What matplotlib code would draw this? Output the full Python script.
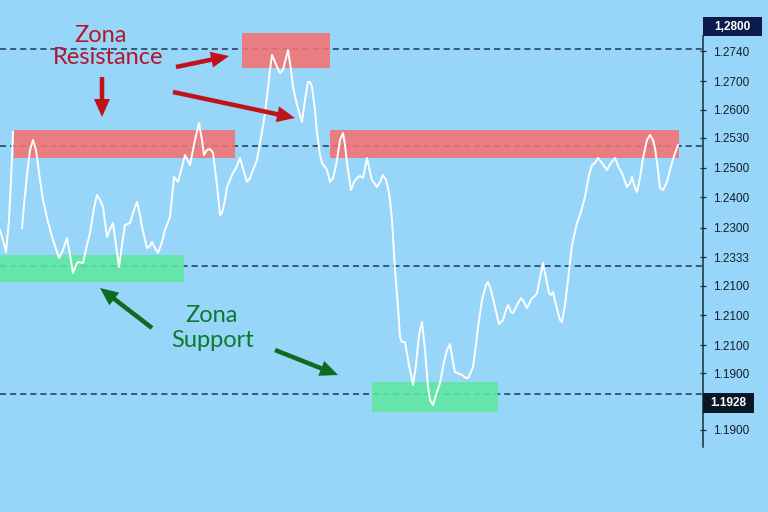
import matplotlib
matplotlib.use('Agg')
import matplotlib.pyplot as plt
from matplotlib.patches import Rectangle
import numpy as np

# chart units: x = bar position, y = price level in chart rows (axis inverted)
price_x = [0, 3, 6, 9, 11, 13, np.nan,
           22, 24, 27, 30, 33, 36, 40, 43, 48, 53, 59, 63, 67, 70, 73, 76, 78, 83, 87, 90,
           94, 97, 100, 103, 107, 110, 113, 116, 119, 122, 125, 130, 134, 137, 140, 142,
           147, 150, 152, 155, 158, 162, 165, 170, 174, 178, 182, 185, 190, 195, 199, 202,
           204, 207, 210, 213, 217, 220, 222, 225, 227, 233, 236, 240, 244, 247, 250, 253,
           257, 260, 264, 267, 270, 272, 275, 277, 280, 283, 286, 288, 291, 293, 297, 302,
           305, 308, 310, 312, 315, 317, 320, 322, 327, 330, 333, 335, 337, 340, 343, 345,
           347, 351, 354, 357, 360, 363, 365, 367, 370, 372, 377, 380, 383, 386, 388, 390,
           392, 395, 398, 400, 402, 405, 409, 413, 416, 419, 422, 425, 428, 430, 433, 436,
           440, 444, 447, 450, 453, 455, 462, 466, 468, 471, 473, 476, 478, 482, 486, 488,
           491, 495, 499, 503, 506, 508, 511, 513, 517, 521, 524, 527, 530, 532, 535, 537,
           540, 543, 546, 549, 551, 553, 556, 560, 562, 565, 568, 572, 577, 580, 585, 589,
           592, 595, 598, 602, 607, 611, 615, 619, 622, 627, 630, 632, 635, 637, 640, 643,
           647, 650, 653, 655, 658, 660, 663, 667, 670, 674, 678]
price_y = [230, 240, 252, 220, 180, 132, np.nan,
           228, 205, 175, 150, 140, 150, 180, 200, 222, 240, 258, 250, 238, 255, 273, 265, 262, 263, 245, 233,
           208, 195, 200, 207, 237, 229, 223, 245, 267, 245, 225, 223, 210, 202, 215, 227,
           248, 246, 242, 248, 253, 242, 230, 217, 177, 182, 167, 155, 165, 140, 123, 140,
           155, 150, 149, 153, 185, 215, 213, 200, 187, 173, 168, 158, 172, 182, 178, 170,
           160, 143, 120, 97, 70, 55, 62, 67, 73, 70, 58, 50, 70, 87, 105, 122,
           100, 82, 82, 87, 110, 133, 155, 163, 170, 182, 178, 170, 160, 140, 133, 145,
           163, 190, 182, 178, 176, 178, 168, 158, 172, 180, 187, 182, 175, 180, 188, 200,
           220, 270, 307, 337, 342, 342, 365, 385, 365, 335, 322, 350, 387, 400, 405, 395,
           383, 362, 350, 344, 362, 372, 375, 378, 378, 372, 367, 345, 327, 300, 285, 282,
           290, 307, 324, 320, 310, 305, 312, 313, 305, 298, 302, 308, 302, 298, 296, 293,
           278, 263, 278, 293, 295, 292, 305, 320, 322, 305, 280, 245, 223, 215, 197, 175,
           165, 163, 158, 163, 170, 163, 158, 168, 173, 187, 183, 177, 188, 192, 178, 158,
           140, 135, 140, 148, 170, 188, 190, 182, 170, 156, 145]

level_rows = [49, 146, 266, 394]
tick_rows = [51, 81, 110, 138, 168, 197, 228, 257, 286, 315, 345, 373, 430]
tick_labels = ['1.2740', '1.2700', '1.2600', '1.2530', '1.2500', '1.2400', '1.2300',
               '1.2333', '1.2100', '1.2100', '1.2100', '1.1900', '1.1900']
top_label = '1,2800'
support_label = '1.1928'

# zones: (x_start, x_end, row_top, row_bottom)
resistance_zones = [(14, 235, 130, 158), (242, 330, 33, 68), (330, 679, 130, 158)]
support_zones = [(0, 184, 255, 282), (372, 498, 382, 412)]

bg = '#97d5f9'
dark = '#173a52'
red = '#b3172a'
green = '#0b7a30'

fig = plt.figure(figsize=(7.68, 5.12), dpi=100, facecolor=bg)
ax = fig.add_axes([0, 0, 1, 1], facecolor=bg)
ax.set_xlim(0, 768)
ax.set_ylim(512, 0)

for r in level_rows:
    ax.plot([0, 703], [r, r], color=dark, lw=1.1, ls=(0, (4, 2.6)), zorder=1)

for x0, x1, r0, r1 in resistance_zones:
    ax.add_patch(Rectangle((x0, r0), x1 - x0, r1 - r0, facecolor='#f47272',
                           alpha=0.88, lw=0, zorder=2))
for x0, x1, r0, r1 in support_zones:
    ax.add_patch(Rectangle((x0, r0), x1 - x0, r1 - r0, facecolor='#5fe89e',
                           alpha=0.88, lw=0, zorder=2))

ax.plot(price_x, price_y, color='white', lw=1.4, solid_joinstyle='round', zorder=3)

# right price axis
for s in ['left', 'top', 'bottom']:
    ax.spines[s].set_visible(False)
ax.spines['right'].set_position(('data', 703))
ax.spines['right'].set_bounds(36, 447)
ax.spines['right'].set_color('#1c2c3a')
ax.spines['right'].set_linewidth(1.1)
ax.xaxis.set_visible(False)
ax.yaxis.tick_right()
ax.set_yticks(tick_rows)
ax.set_yticklabels(tick_labels)
ax.tick_params(axis='y', direction='inout', length=5, width=0.9, color='#1c2c3a',
               pad=5, labelsize=8.5, labelcolor='#14202c')
for lab in ax.get_yticklabels():
    lab.set_fontfamily('Liberation Sans')

ax.add_patch(Rectangle((703, 17), 59, 19, facecolor='#0c1a4c', lw=0, zorder=4, clip_on=False))
ax.text(732, 27, top_label, color='white', fontsize=8.5, fontweight='bold',
        family='Liberation Sans', ha='center', va='center', zorder=5)
ax.add_patch(Rectangle((703, 393), 51, 20, facecolor='#091624', lw=0, zorder=4, clip_on=False))
ax.text(728, 403, support_label, color='white', fontsize=8.5, fontweight='bold',
        family='Liberation Sans', ha='center', va='center', zorder=5)

# annotations
txt_kw = dict(fontsize=17, family='Lato', fontweight='normal', ha='center', va='baseline', zorder=6)
ax.text(101, 42, 'Zona', color=red, **txt_kw)
ax.text(108, 64, 'Resistance', color=red, **txt_kw)
ax.text(212, 322, 'Zona', color=green, **txt_kw)
ax.text(213, 347, 'Support', color=green, **txt_kw)

arrow_kw = dict(width=4.5, head_width=16, head_length=18, length_includes_head=True, lw=0, zorder=6)
ax.arrow(176, 67, 53, -11, color='#c0121b', **arrow_kw)
ax.arrow(102, 77, 0, 40, color='#c0121b', **arrow_kw)
ax.arrow(173, 92, 122, 26, color='#c0121b', **arrow_kw)
ax.arrow(152, 328, -52, -40, color='#0c6b20', **arrow_kw)
ax.arrow(275, 350, 63, 25, color='#0c6b20', **arrow_kw)

fig.savefig('out.png', dpi=100, facecolor=bg)
plt.close(fig)
